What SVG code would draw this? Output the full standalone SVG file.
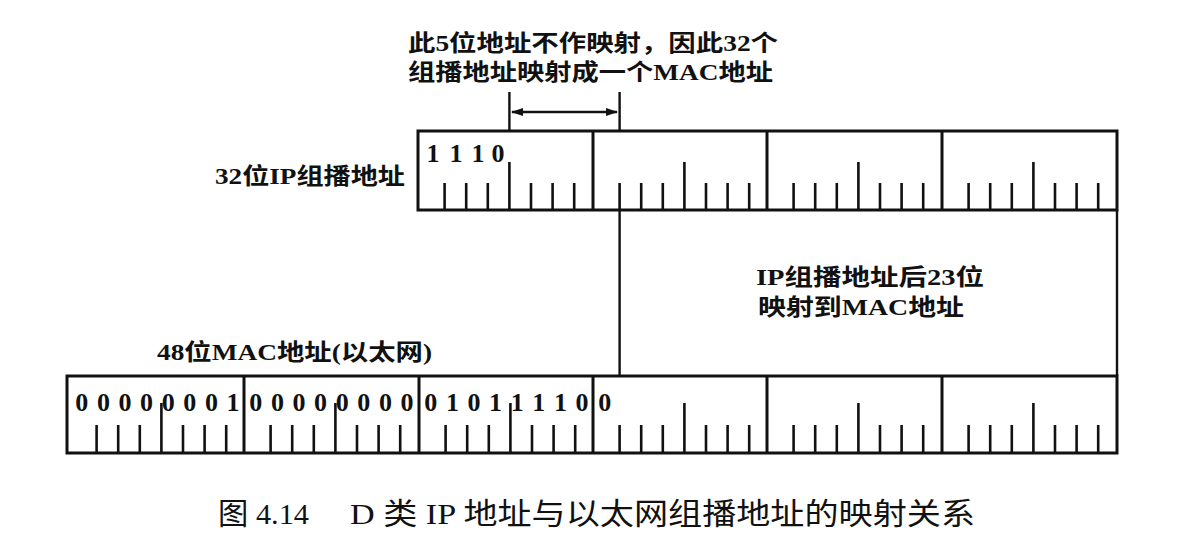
<svg xmlns="http://www.w3.org/2000/svg" width="1198" height="538" viewBox="0 0 1198 538">
  <style>
    .frame { fill: none; stroke: #111; stroke-width: 3; }
    .tick { fill: none; stroke: #111; stroke-width: 2.6; }
    .wire { fill: none; stroke: #111; stroke-width: 2.4; }
    .bits { font-family: "Liberation Serif", serif; font-weight: bold; font-size: 26px; fill: #111; text-anchor: middle; }
    .label { font-family: "Liberation Serif", "Noto Sans CJK SC", serif; font-weight: bold; font-size: 23px; fill: #111; }
    .caption { font-family: "Liberation Serif", "Noto Sans CJK SC", serif; font-size: 30px; fill: #111; }
  </style>
  <defs>
    <marker id="arrow" viewBox="0 0 12 8" refX="11" refY="4" markerWidth="12" markerHeight="8" markerUnits="userSpaceOnUse" orient="auto-start-reverse">
      <path d="M0,0 L12,4 L0,8 Z" fill="#111"/>
    </marker>
  </defs>

  <rect width="1198" height="538" fill="#fff"/>

  <!-- 32-bit IP multicast address -->
  <g id="ip-address">
    <text class="label" x="215" y="184" textLength="190" lengthAdjust="spacingAndGlyphs">32位IP组播地址</text>
    <rect class="frame" x="418" y="131" width="699" height="79"/>
    <path class="frame" d="M593,131 V210 M767,131 V210 M942,131 V210"/>
    <path class="tick" d="
      M444.6,183 V210 M466.2,183 V210 M487.8,183 V210 M509.4,162 V210 M531,183 V210 M552.6,183 V210 M574.2,183 V210
      M619.6,183 V210 M641.2,183 V210 M662.8,183 V210 M684.4,162 V210 M706,183 V210 M727.6,183 V210 M749.2,183 V210
      M793.6,183 V210 M815.2,183 V210 M836.8,183 V210 M858.4,162 V210 M880,183 V210 M901.6,183 V210 M923.2,183 V210
      M968.6,183 V210 M990.2,183 V210 M1011.8,183 V210 M1033.4,162 V210 M1055,183 V210 M1076.6,183 V210 M1098.2,183 V210"/>
    <text class="bits" x="433 456 478 498" y="162">1110</text>
  </g>

  <!-- 48-bit Ethernet MAC address -->
  <g id="mac-address">
    <text class="label" x="157" y="360" textLength="275" lengthAdjust="spacingAndGlyphs">48位MAC地址(以太网)</text>
    <rect class="frame" x="67" y="376" width="1050" height="77"/>
    <path class="frame" d="M244,376 V453 M419,376 V453 M593,376 V453 M767,376 V453 M942,376 V453"/>
    <path class="tick" d="
      M96.6,425 V453 M118.2,425 V453 M139.8,425 V453 M161.4,403 V453 M183,425 V453 M204.6,425 V453 M226.2,425 V453
      M270.6,425 V453 M292.2,425 V453 M313.8,425 V453 M335.4,403 V453 M357,425 V453 M378.6,425 V453 M400.2,425 V453
      M445.6,425 V453 M467.2,425 V453 M488.8,425 V453 M510.4,403 V453 M532,425 V453 M553.6,425 V453 M575.2,425 V453
      M619.6,425 V453 M641.2,425 V453 M662.8,425 V453 M684.4,403 V453 M706,425 V453 M727.6,425 V453 M749.2,425 V453
      M793.6,425 V453 M815.2,425 V453 M836.8,425 V453 M858.4,403 V453 M880,425 V453 M901.6,425 V453 M923.2,425 V453
      M968.6,425 V453 M990.2,425 V453 M1011.8,425 V453 M1033.4,403 V453 M1055,425 V453 M1076.6,425 V453 M1098.2,425 V453"/>
    <text class="bits" x="81.8 103.4 125 146.6 168.2 189.8 211.4 233" y="411">00000001</text>
    <text class="bits" x="255.8 277.4 299 320.6 342.2 363.8 385.4 407" y="411">00000000</text>
    <text class="bits" x="430.8 452.4 474 495.6 517.2 538.8 560.4 582" y="411">01011110</text>
    <text class="bits" x="604.8" y="411">0</text>
  </g>

  <!-- unmapped 5-bit span and the 23-bit mapping region -->
  <g id="connectors">
    <path class="wire" d="M509.4,92 V131 M619.6,92 V131"/>
    <line class="wire" x1="512" y1="112" x2="617" y2="112" marker-start="url(#arrow)" marker-end="url(#arrow)"/>
    <path class="wire" d="M619.6,210 V376 M1117,210 V376"/>
  </g>

  <g id="note-unmapped">
    <text class="label" x="408" y="51" textLength="370" lengthAdjust="spacingAndGlyphs">此5位地址不作映射，因此32个</text>
    <text class="label" x="408" y="80" textLength="365" lengthAdjust="spacingAndGlyphs">组播地址映射成一个MAC地址</text>
  </g>

  <g id="note-mapped">
    <text class="label" x="756" y="285" textLength="228" lengthAdjust="spacingAndGlyphs">IP组播地址后23位</text>
    <text class="label" x="758" y="315" textLength="206" lengthAdjust="spacingAndGlyphs">映射到MAC地址</text>
  </g>

  <g id="caption">
    <text class="caption" x="218" y="524" textLength="91" lengthAdjust="spacingAndGlyphs">图 4.14</text>
    <text class="caption" x="350" y="524" textLength="625" lengthAdjust="spacingAndGlyphs">D 类 IP 地址与以太网组播地址的映射关系</text>
  </g>
</svg>
